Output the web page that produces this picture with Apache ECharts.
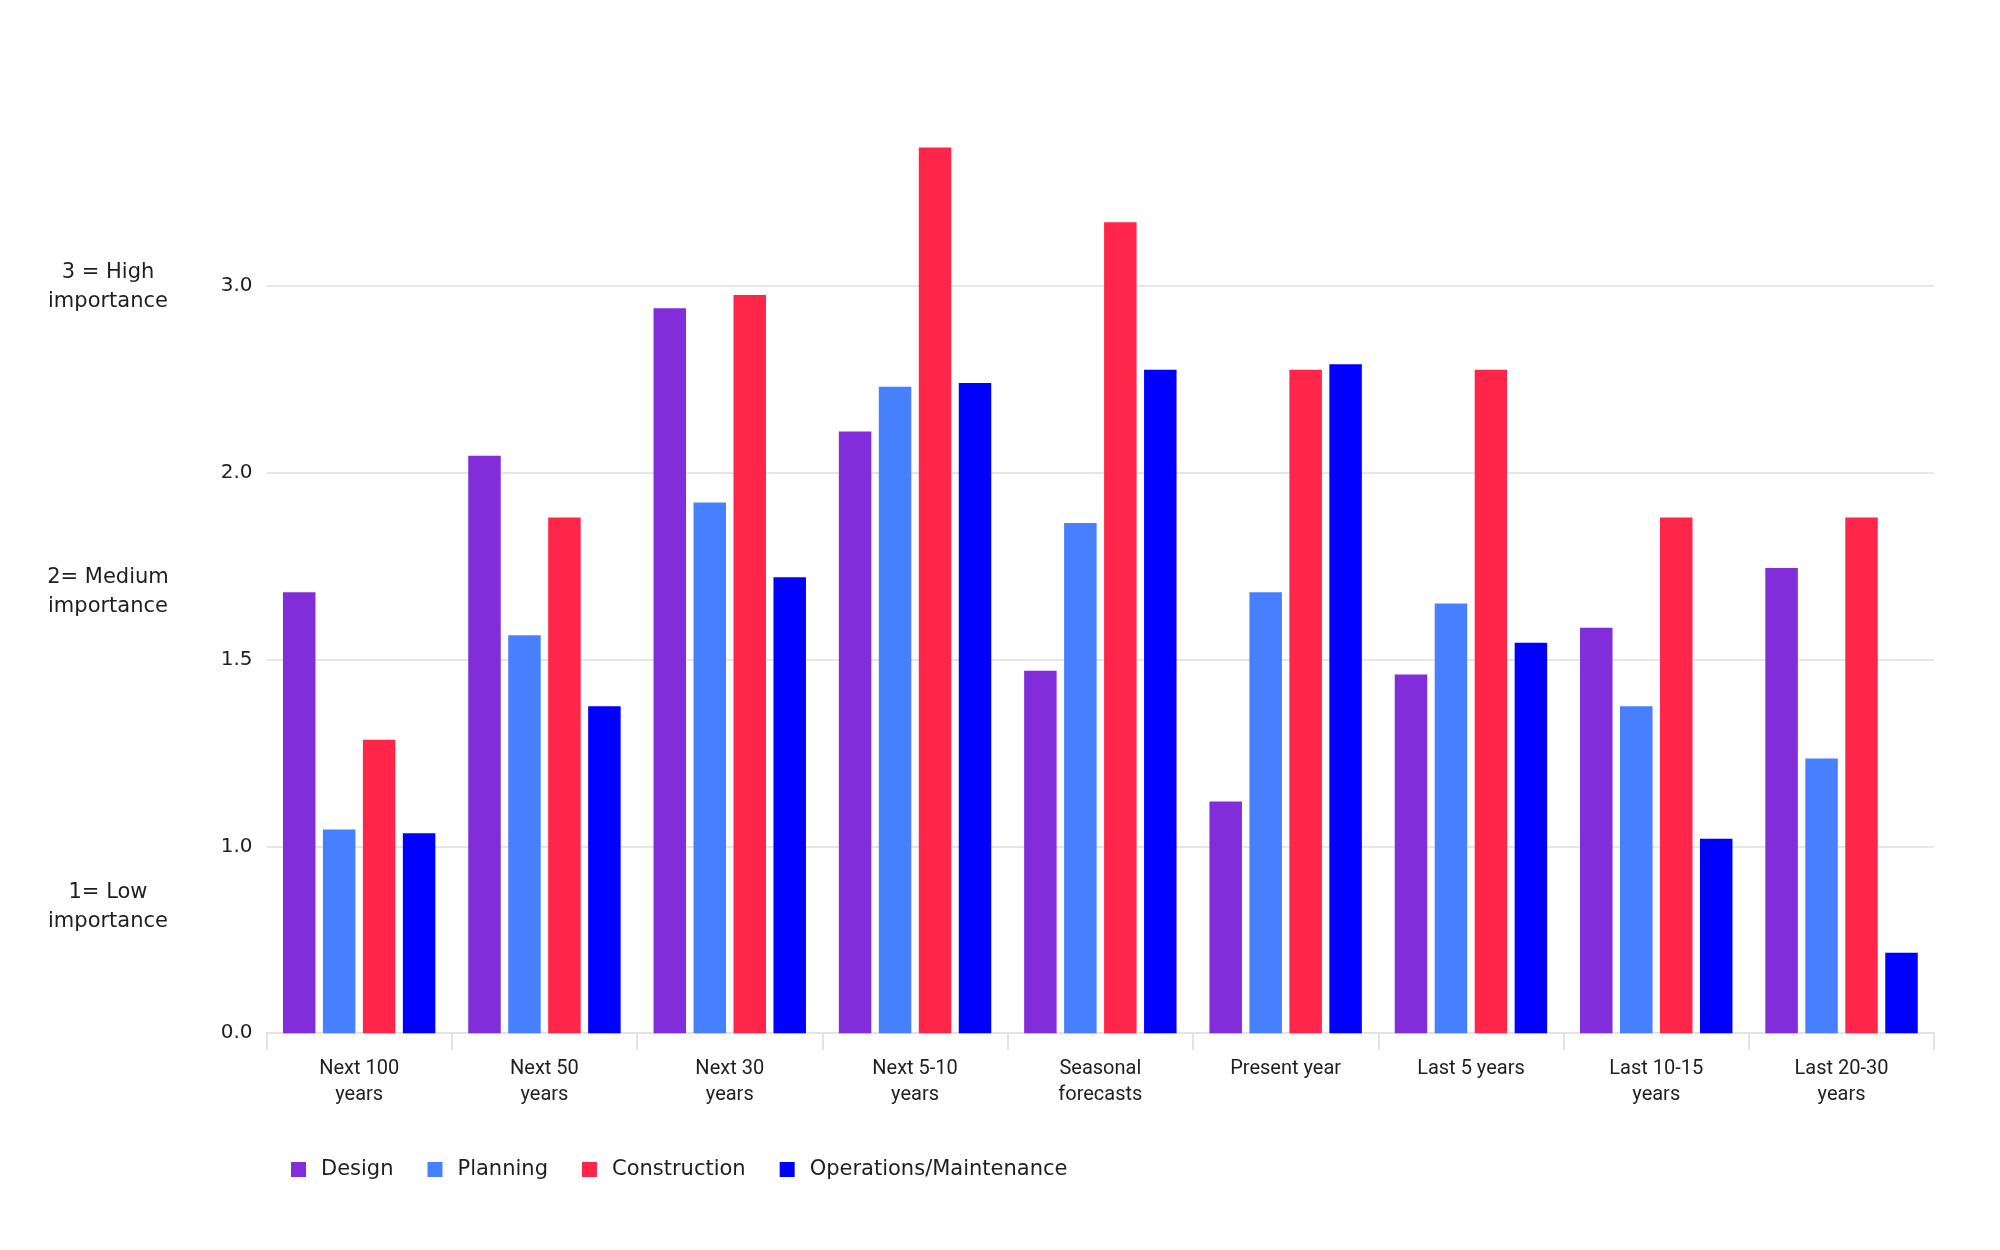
<!DOCTYPE html>
<html>
<head>
<meta charset="utf-8">
<script src="https://cdn.jsdelivr.net/npm/echarts@6/dist/echarts.min.js"></script>
<style>
html,body{margin:0;padding:0;background:#fff;}
#chart{width:2000px;height:1250px;}
</style>
</head>
<body>
<div id="chart"></div>
<script>
// Categories (x axis)
const categories = ['Next 100\nyears','Next 50\nyears','Next 30\nyears','Next 5-10\nyears','Seasonal\nforecasts','Present year','Last 5 years','Last 10-15\nyears','Last 20-30\nyears'];
// Y tick labels (equally spaced positions 0..5)
const yTickLabels = ['0.0','1.0','1.5','2.0','3.0',''];
// Importance annotations on the left
const importanceLabels = ['3 = High\nimportance','2= Medium\nimportance','1= Low\nimportance'];
// Series values (in axis tick-position units)
const design       = [2.36, 3.09, 3.88, 3.22, 1.94, 1.24, 1.92, 2.17, 2.49];
const planning     = [1.09, 2.13, 2.84, 3.46, 2.73, 2.36, 2.30, 1.75, 1.47];
const construction = [1.57, 2.76, 3.95, 4.74, 4.34, 3.55, 3.55, 2.76, 2.76];
const operations   = [1.07, 1.75, 2.44, 3.48, 3.55, 3.58, 2.09, 1.04, 0.43];

const seriesNames = ['Design','Planning','Construction','Operations/Maintenance'];
const colors = ['#812dda','#4680ff','#ff2649','#0000ff'];
const seriesData = [design, planning, construction, operations];

const chart = echarts.init(document.getElementById('chart'), null, {renderer:'canvas'});
const annoStyle = { textAlign: 'center', textVerticalAlign: 'middle', fontFamily: 'DejaVu Sans', fontSize: 21, lineHeight: 29, fill: '#1e1e1e' };
const option = {
  backgroundColor: '#ffffff',
  animation: false,
  color: colors,
  grid: { left: 266.5, right: 65.8, top: 98.9, bottom: 216.8, containLabel: false },
  legend: {
    left: 286, top: 1154,
    icon: 'rect', itemWidth: 15, itemHeight: 15, itemGap: 34,
    textStyle: { fontFamily: 'DejaVu Sans', fontSize: 21, color: '#1e1e1e', padding: [0,0,0,10] },
    data: seriesNames
  },
  xAxis: {
    type: 'category',
    data: categories,
    axisLine: { lineStyle: { color: '#e3e3e3', width: 2 } },
    axisTick: { show: true, length: 17, lineStyle: { color: '#e3e3e3', width: 2 } },
    axisLabel: { fontFamily: 'Roboto', fontSize: 20, color: '#1e1e1e', lineHeight: 26, margin: 23, interval: 0 }
  },
  yAxis: {
    type: 'value', min: 0, max: 5, interval: 1,
    axisLine: { show: false }, axisTick: { show: false },
    splitLine: { lineStyle: { color: ['#e6e6e6','#e6e6e6','#e6e6e6','#e6e6e6','#e6e6e6','rgba(0,0,0,0)'], width: 2 } },
    axisLabel: {
      fontFamily: 'DejaVu Sans', fontSize: 20, color: '#1e1e1e', margin: 14,
      formatter: v => yTickLabels[Math.round(v)] || ''
    }
  },
  graphic: [
    { type: 'text', x: 108, y: 287, style: Object.assign({ text: importanceLabels[0] }, annoStyle) },
    { type: 'text', x: 108, y: 592, style: Object.assign({ text: importanceLabels[1] }, annoStyle) },
    { type: 'text', x: 108, y: 907, style: Object.assign({ text: importanceLabels[2] }, annoStyle) }
  ],
  series: seriesNames.map((n, i) => ({
    name: n, type: 'bar', data: seriesData[i],
    barWidth: 32.5, barGap: '23%',
    itemStyle: { color: colors[i] }
  }))
};
chart.setOption(option);
</script>
</body>
</html>
